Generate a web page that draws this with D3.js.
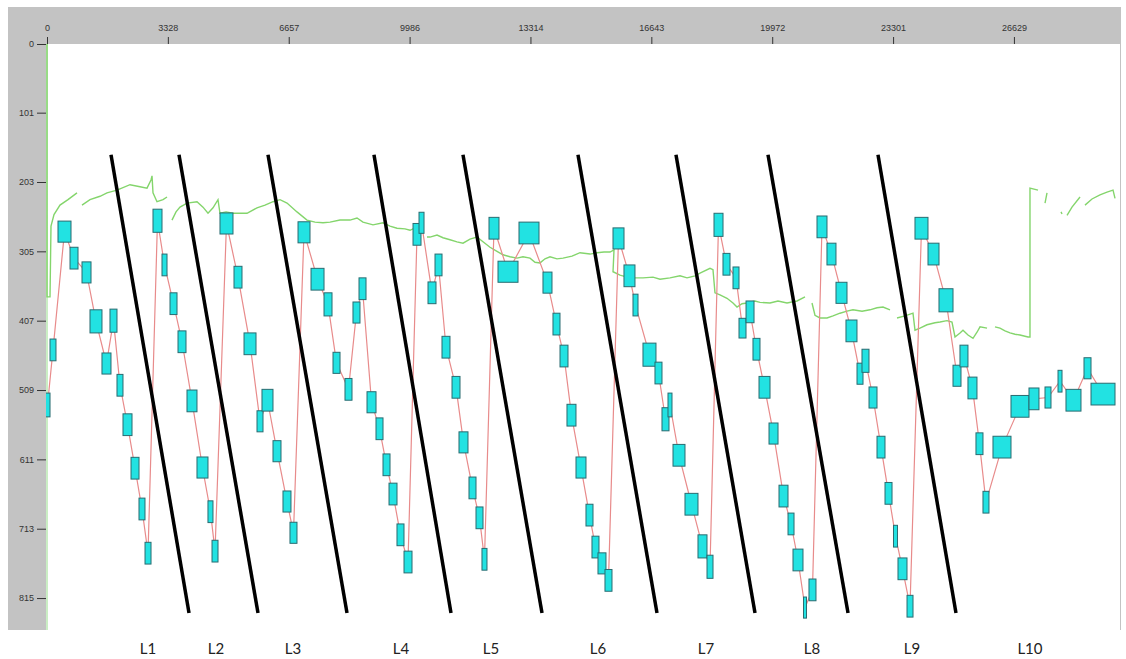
<!DOCTYPE html>
<html>
<head>
<meta charset="utf-8">
<script src="https://cdn.jsdelivr.net/npm/d3@7"></script>
<style>
  body { margin: 0; background: #fff; }
  svg { display: block; }
  .tick text { font-family: "Liberation Sans", Arial, sans-serif; font-size: 9px; fill: #333; }
  .tick line { stroke: #333; }
  .lab { font-family: Lato, "Open Sans", sans-serif; font-size: 15px; fill: #222; }
</style>
</head>
<body>
<svg id="chart" width="1126" height="659"></svg>
<script>
// tick values and labels (x = time, y = position, y grows downwards)
const xTicks = [0, 3328, 6657, 9986, 13314, 16643, 19972, 23301, 26629];
const yTicks = [0, 101, 203, 305, 407, 509, 611, 713, 815];

// boxes: centre x, centre y, width, height (data units)
const boxX = [14,165,482,744,1088,1349,1638,1831,2010,2217,2424,2616,2782,
  3043,3236,3484,3718,3993,4282,4502,4627,
  4943,5260,5591,5866,6072,6334,6609,6788,
  7078,7450,7739,7973,8303,8523,8689,8937,9157,9350,9529,9735,9942,
  10190,10314,10603,10782,10988,11264,11470,11718,11911,12048,
  12310,12696,13274,13783,14031,14238,14444,14706,14940,15105,15284,15463,
  15739,16041,16207,16592,16840,17033,17157,17405,17749,18052,18259,
  18493,18713,18975,19154,19361,19539,19760,20008,20283,20490,20682,20875,21081,
  21343,21604,21880,22155,22390,22541,22748,22968,23175,23367,23560,23767,
  24083,24414,24758,25061,25253,25487,25680,25859,
  26300,26796,27181,27567,27898,28269,28655,29082];
const boxY = [531,450,276,315,336,408,470,407,502,560,624,684,749,
  260,325,382,438,525,623,688,746,
  264,343,441,555,524,599,673,719,
  277,346,383,469,508,395,360,527,566,619,662,722,762,
  280,263,366,325,446,505,586,653,697,758,
  271,335,278,351,412,459,546,623,693,740,764,789,
  286,341,384,457,484,552,531,605,677,739,769,
  266,324,344,418,394,449,505,573,665,706,759,829,803,
  269,309,366,422,485,466,520,593,661,724,772,827,
  271,309,377,488,459,506,588,674,
  593,533,522,520,496,524,477,515];
const boxW = [138,165,358,220,248,330,248,193,165,248,220,165,165,
  248,138,193,220,275,303,138,165,
  358,220,330,165,303,220,220,193,
  330,358,220,193,193,193,193,248,193,193,220,193,220,
  220,138,220,193,220,220,248,193,193,138,
  275,551,551,248,193,220,248,275,193,193,220,193,
  303,303,138,358,193,193,110,330,358,248,165,
  248,193,165,193,220,193,303,248,248,165,275,83,193,
  275,248,303,303,165,193,220,220,193,110,248,165,
  358,303,386,220,220,248,193,165,
  496,496,275,165,110,413,193,661];
const boxH = [35,32,31,32,31,34,31,34,32,32,32,32,32,
  34,32,32,32,32,31,32,32,
  31,32,32,31,32,31,31,31,
  31,32,34,31,32,31,32,31,32,32,32,32,32,
  32,31,32,32,32,32,31,32,32,32,
  32,31,32,31,32,32,32,31,32,32,31,32,
  31,32,32,34,32,34,35,32,32,34,34,
  34,32,32,29,32,32,32,31,32,32,32,31,32,
  32,32,31,32,31,34,31,32,32,32,32,32,
  32,32,34,31,32,32,32,32,
  32,32,32,31,32,32,31,32];

// green trace, null = gap
const greenX = [0,0,83,110,193,358,578,826,null,
  964,1184,1460,1652,1928,2286,2561,2754,2864,2892,2919,3029,3195,3305,null,
  3442,3553,3663,3856,4131,4296,4434,4572,4709,4764,4930,5122,5315,5508,5783,6004,6224,6417,6610,6885,7160,7381,7601,7794,8069,8344,8537,8702,8978,9253,9446,9639,9859,9997,10190,null,
  10465,10548,10741,10906,11099,11291,11457,11649,11842,12007,12200,12393,12558,12751,12944,13109,13302,13440,13577,13715,13853,14045,14211,14458,14679,14954,15147,15340,15505,15615,15588,15780,16056,16414,16689,16882,17157,17433,17626,17846,17984,18259,18341,18396,18534,18727,18892,19003,19140,19278,19498,19636,19911,20131,20379,20655,20875,null,
  21068,21150,21288,21481,21646,21839,22032,22197,22445,22665,22858,23023,23216,null,
  23409,23629,23849,23904,24042,24235,24455,24593,24786,24923,25006,25144,25226,25364,25502,25612,25695,25888,null,
  26107,26245,26383,26521,26659,26796,27016,27071,27071,27292,null,
  27540,27485,null,
  27926,27953,null,
  28091,28228,28449,null,
  28586,28779,28999,29192,29358,29413];
const greenY = [0,372,372,268,251,237,229,219,null,
  237,229,224,219,215,207,210,212,200,194,219,232,229,225,null,
  259,247,240,234,232,240,249,241,229,249,247,249,249,249,241,237,232,229,234,247,259,262,263,262,259,259,256,262,266,263,268,271,272,274,269,null,
  284,284,281,285,288,291,293,287,284,291,299,305,310,313,315,313,315,321,322,316,313,316,315,312,307,309,307,306,306,303,335,340,344,344,343,346,344,341,344,341,337,330,332,366,369,374,381,387,382,381,378,380,381,378,381,378,372,null,
  381,399,403,403,400,396,393,391,393,391,388,387,391,null,
  403,400,396,421,418,413,410,409,407,409,431,425,421,428,433,424,416,418,null,
  416,418,422,425,427,428,431,431,212,215,null,
  219,234,null,
  247,250,null,
  252,240,225,null,
  237,228,222,218,215,227];

// annotation strokes and their names
const cutX1 = [1763,3635,6086,9005,11456,14623,17322,19856,22885];
const cutX2 = [3911,5811,8262,11126,13632,16799,19498,22060,25033];
const cutY1 = 163, cutY2 = 837;
const lapNames = ['L1','L2','L3','L4','L5','L6','L7','L8','L9','L10'];
const lapX = [2782,4654,6775,9749,12228,15175,18149,21068,23822,27071];

const svg = d3.select('#chart');
const margin = { top: 44, left: 46, right: 1120, bottom: 630 };

const x = d3.scaleLinear().domain([0, 29550]).range([47, 1120]);
const y = d3.scaleLinear().domain([0, 862]).range([44, 630]);

// gray frame + white plot area
svg.append('rect').attr('x', 8).attr('y', 7).attr('width', 1113).attr('height', 623).attr('fill', '#c3c3c3');
svg.append('rect').attr('x', margin.left).attr('y', margin.top)
  .attr('width', margin.right - margin.left).attr('height', margin.bottom - margin.top).attr('fill', '#fff');

svg.append('clipPath').attr('id', 'plot').append('rect')
  .attr('x', margin.left).attr('y', margin.top)
  .attr('width', margin.right - margin.left).attr('height', margin.bottom - margin.top);

const g = svg.append('g').attr('clip-path', 'url(#plot)');

// faint green edge
g.append('line').attr('x1', 47).attr('x2', 47).attr('y1', margin.top).attr('y2', margin.bottom)
  .attr('stroke', '#b8e8b0').attr('stroke-width', 1.5);

const gLine = d3.line()
  .defined((d, i) => greenX[i] !== null)
  .x((d, i) => x(greenX[i]))
  .y((d, i) => y(greenY[i]));

g.append('path').datum(greenX)
  .attr('d', gLine)
  .attr('fill', 'none')
  .attr('stroke', '#84d56c')
  .attr('stroke-width', 1.4);

const rLine = d3.line()
  .x((d, i) => x(boxX[i]))
  .y((d, i) => y(boxY[i]));

g.append('path').datum(boxX)
  .attr('d', rLine)
  .attr('fill', 'none')
  .attr('stroke', '#e88b8b')
  .attr('stroke-width', 1.2);

g.selectAll('rect.box')
  .data(boxX)
  .enter().append('rect')
  .attr('class', 'box')
  .attr('x', (d, i) => x(boxX[i] - boxW[i] / 2))
  .attr('y', (d, i) => y(boxY[i] - boxH[i] / 2))
  .attr('width', (d, i) => x(boxW[i]) - x(0))
  .attr('height', (d, i) => y(boxH[i]) - y(0))
  .attr('fill', '#22e2e2')
  .attr('stroke', '#2a6b70')
  .attr('stroke-width', 1);

// axes
const xAxis = d3.axisTop(x).tickValues(xTicks).tickSize(7).tickPadding(6).tickFormat(d3.format('d'));
const yAxis = d3.axisLeft(y).tickValues(yTicks).tickSize(9).tickPadding(3).tickFormat(d3.format('d'));

svg.append('g')
  .attr('transform', `translate(0, ${margin.top})`)
  .call(xAxis)
  .call(a => a.select('.domain').remove());

svg.append('g')
  .attr('transform', `translate(${margin.left}, 0)`)
  .call(yAxis)
  .call(a => a.select('.domain').remove());

// black slanted strokes
svg.selectAll('line.cut')
  .data(cutX1)
  .enter().append('line')
  .attr('class', 'cut')
  .attr('x1', (d, i) => x(cutX1[i]))
  .attr('y1', y(cutY1))
  .attr('x2', (d, i) => x(cutX2[i]))
  .attr('y2', y(cutY2))
  .attr('stroke', '#000')
  .attr('stroke-width', 3.5);

svg.selectAll('text.lab')
  .data(lapNames)
  .enter().append('text')
  .attr('class', 'lab')
  .attr('x', (d, i) => x(lapX[i]))
  .attr('y', 654)
  .attr('text-anchor', 'middle')
  .text(d => d);
</script>
</body>
</html>
